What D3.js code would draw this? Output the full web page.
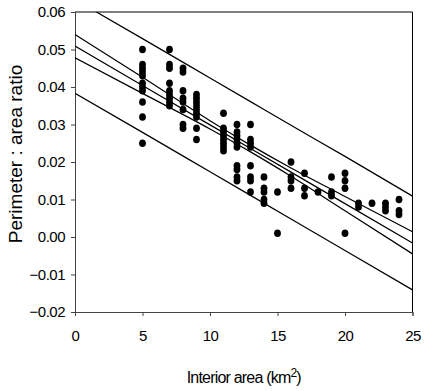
<!DOCTYPE html>
<html>
<head>
<meta charset="utf-8">
<script src="https://cdnjs.cloudflare.com/ajax/libs/d3/7.8.5/d3.min.js"></script>
<style>
  html, body { margin: 0; padding: 0; background: #fff; }
  svg { display: block; font-family: "Liberation Sans", Arial, sans-serif; }
</style>
</head>
<body>
<svg id="chart" width="424" height="391"></svg>
<script>
// perimeter : area ratio vs interior area, with fit, 95% CI and PI

// observations, grouped by interior area (km2)
const areaX = [5, 7, 8, 9, 11, 12, 13, 14, 15, 16, 17, 18, 19, 20, 21, 22, 23, 24];
const ratioY = [
    [0.050, 0.046, 0.045, 0.044, 0.043, 0.041, 0.040, 0.039, 0.036, 0.032, 0.025],
    [0.050, 0.046, 0.045, 0.041, 0.039, 0.038, 0.037, 0.036, 0.035],
    [0.045, 0.044, 0.039, 0.037, 0.036, 0.034, 0.030, 0.029],
    [0.038, 0.037, 0.036, 0.035, 0.034, 0.033, 0.032, 0.029, 0.026],
    [0.033, 0.029, 0.028, 0.027, 0.026, 0.025, 0.024, 0.023],
    [0.030, 0.028, 0.027, 0.026, 0.025, 0.024, 0.019, 0.018, 0.016, 0.015],
    [0.030, 0.026, 0.025, 0.024, 0.019, 0.016, 0.015, 0.012],
    [0.016, 0.013, 0.012, 0.010, 0.009],
    [0.012, 0.001],
    [0.020, 0.016, 0.015, 0.013],
    [0.017, 0.013, 0.011],
    [0.012],
    [0.016, 0.012, 0.011],
    [0.017, 0.015, 0.013, 0.001],
    [0.009, 0.008],
    [0.009],
    [0.009, 0.008, 0.007],
    [0.010, 0.007, 0.006]
];

// regression line and bands, read at these x values
const bandX   = [0, 5, 10, 13, 16, 20, 25];
const fitY    = [0.0509, 0.0404, 0.0299, 0.0236, 0.0173, 0.0089, -0.0016];
const ciUpper = [0.0540, 0.0426, 0.0310, 0.0245, 0.0184, 0.0108, 0.0014];
const ciLower = [0.0478, 0.0383, 0.0288, 0.0227, 0.0162, 0.0070, -0.0045];
const piUpper = [0.0633, 0.0529, 0.0424, 0.0361, 0.0298, 0.0215, 0.0109];
const piLower = [0.0383, 0.0279, 0.0174, 0.0111, 0.0048, -0.0036, -0.0141];

const xTicks = [0, 5, 10, 15, 20, 25];
const yTicks = [-0.02, -0.01, 0, 0.01, 0.02, 0.03, 0.04, 0.05, 0.06];

const svg = d3.select('#chart');
const mLeft = 75, mRight = 412.5, mTop = 12, mBottom = 312;

const x = d3.scaleLinear().domain([0, 25]).range([mLeft, mRight]);
const y = d3.scaleLinear().domain([-0.02, 0.06]).range([mBottom, mTop]);

svg.append('clipPath').attr('id', 'plotClip')
    .append('rect')
    .attr('x', mLeft).attr('y', mTop)
    .attr('width', mRight - mLeft).attr('height', mBottom - mTop);

// frame (top and right edges)
svg.append('path')
    .attr('d', `M${mLeft},${mTop}H${mRight}V${mBottom}`)
    .attr('fill', 'none')
    .attr('stroke', '#000')
    .attr('stroke-width', 1);

// axes
const xAxis = svg.append('g')
    .attr('transform', `translate(0,${mBottom})`)
    .call(d3.axisBottom(x).tickValues(xTicks).tickSize(4).tickPadding(14).tickFormat(d3.format('d')));
const yAxis = svg.append('g')
    .attr('transform', `translate(${mLeft},0)`)
    .call(d3.axisLeft(y).tickValues(yTicks).tickSize(4).tickPadding(6).tickFormat(d3.format('.2f')));

[xAxis, yAxis].forEach(g => {
    g.select('.domain').attr('stroke', '#444');
    g.selectAll('.tick line').attr('stroke', '#444');
    g.selectAll('.tick text')
        .attr('fill', '#000')
        .style('font-size', '15px')
        .style('letter-spacing', '-0.5px');
});

// lines
const lineGen = d3.line()
    .x((d, i) => x(bandX[i]))
    .y(d => y(d))
    .curve(d3.curveMonotoneX);

const plot = svg.append('g').attr('clip-path', 'url(#plotClip)');
[piUpper, ciUpper, fitY, ciLower, piLower].forEach(s => {
    plot.append('path')
        .datum(s)
        .attr('d', lineGen)
        .attr('fill', 'none')
        .attr('stroke', '#000')
        .attr('stroke-width', 1.2);
});

// points
const pts = [];
areaX.forEach((a, i) => ratioY[i].forEach(v => pts.push({ a, v })));
plot.selectAll('ellipse.pt')
    .data(pts)
    .enter()
    .append('ellipse')
    .attr('class', 'pt')
    .attr('cx', d => x(d.a))
    .attr('cy', d => y(d.v))
    .attr('rx', 3.4)
    .attr('ry', 3.8)
    .attr('fill', '#000');

// axis titles
svg.append('text')
    .attr('x', (mLeft + mRight) / 2)
    .attr('y', 383)
    .attr('text-anchor', 'middle')
    .style('font-size', '16px')
    .style('letter-spacing', '-0.8px')
    .html('Interior area (km<tspan dy="-6" font-size="12px">2</tspan><tspan dy="6">)</tspan>');

svg.append('text')
    .attr('transform', `translate(22,${(mTop + mBottom) / 2 - 8}) rotate(-90)`)
    .attr('text-anchor', 'middle')
    .style('font-size', '19px')
    .text('Perimeter : area ratio');
</script>
</body>
</html>
